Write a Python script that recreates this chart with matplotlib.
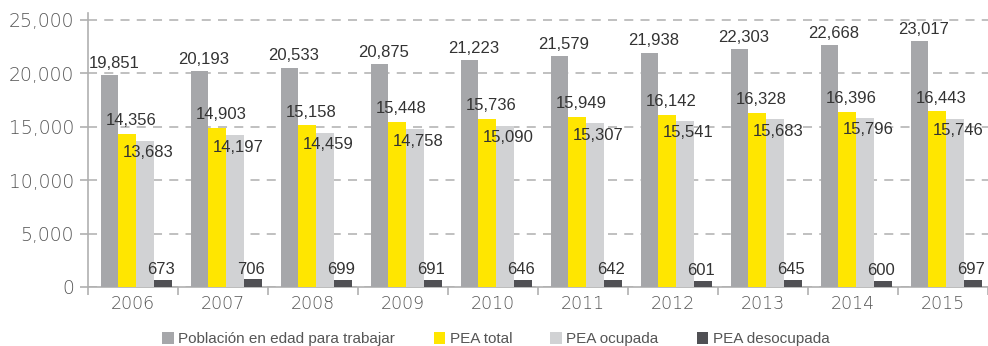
import numpy as np
import matplotlib.pyplot as plt
from matplotlib.ticker import FuncFormatter, FixedLocator

# datos (miles de personas)
anios = ['2006', '2007', '2008', '2009', '2010', '2011', '2012', '2013', '2014', '2015']
poblacion = [19851, 20193, 20533, 20875, 21223, 21579, 21938, 22303, 22668, 23017]
pea_total = [14356, 14903, 15158, 15448, 15736, 15949, 16142, 16328, 16396, 16443]
pea_ocupada = [13683, 14197, 14459, 14758, 15090, 15307, 15541, 15683, 15796, 15746]
pea_desocupada = [673, 706, 699, 691, 646, 642, 601, 645, 600, 697]

series = ['Población en edad para trabajar', 'PEA total', 'PEA ocupada', 'PEA desocupada']
colores = ['#a6a7aa', '#ffe600', '#d1d2d4', '#505054']

plt.rcParams['font.family'] = ['Liberation Sans', 'DejaVu Sans']

fig = plt.figure(figsize=(9.88, 3.46), dpi=100)
ax = fig.add_axes([88/988, 1-287/346, 900/988, (287-13)/346])

x = np.arange(len(anios))
w = 0.197
desp = 0.035
valores = [poblacion, pea_total, pea_ocupada, pea_desocupada]
# desplazamiento de etiquetas (pt): dx, dy, va
etiq = [(3, 3, 'bottom'), (2.5, 4, 'bottom'), (2, -3, 'top'), (-1, 2, 'bottom')]

for k, (vals, col, nom) in enumerate(zip(valores, colores, series)):
    xs = x + (k - 1.5) * w + desp
    ax.bar(xs, vals, w, color=col, label=nom, zorder=3)
    dx, dy, va = etiq[k]
    for xi, v in zip(xs, vals):
        ax.annotate(f'{v:,}', (xi, v), xytext=(dx, dy), textcoords='offset points',
                    ha='center', va=va, fontsize=12, color='#333333', zorder=4)

ax.set_xlim(-0.5, len(anios) - 0.5)
ax.set_ylim(0, 25650)
ax.set_yticks(range(0, 25001, 5000))
ax.yaxis.set_major_formatter(FuncFormatter(lambda v, p: f'{int(v):,}'))
ax.set_xticks(x)
ax.set_xticklabels(anios)
ax.xaxis.set_minor_locator(FixedLocator(np.arange(-0.5, len(anios), 1)))
ax.tick_params(axis='x', which='major', length=0, pad=6, labelsize=12.5, labelcolor='#555555')
ax.tick_params(axis='x', which='minor', length=6, width=1.2, color='#b0b0b0', direction='out')
ax.tick_params(axis='y', length=6, width=1.2, color='#b0b0b0', pad=4, labelsize=13.5,
               labelcolor='#555555')
for lab in ax.get_yticklabels() + ax.get_xticklabels():
    lab.set_family('DejaVu Sans')
    lab.set_fontweight('light')

ax.grid(axis='y', color='#bbbbbb', linestyle=(0, (5, 4)), linewidth=1.3, zorder=0)
for s in ['top', 'right']:
    ax.spines[s].set_visible(False)
for s in ['left', 'bottom']:
    ax.spines[s].set_color('#b0b0b0')
    ax.spines[s].set_linewidth(1.2)

fig.legend(loc='center', bbox_to_anchor=(0.502, 1-339/346), ncol=4, frameon=False,
           fontsize=11, handlelength=0.75, handleheight=0.85, handletextpad=0.3,
           columnspacing=2.5, labelcolor='#555555')

fig.savefig('out.png', dpi=100)
